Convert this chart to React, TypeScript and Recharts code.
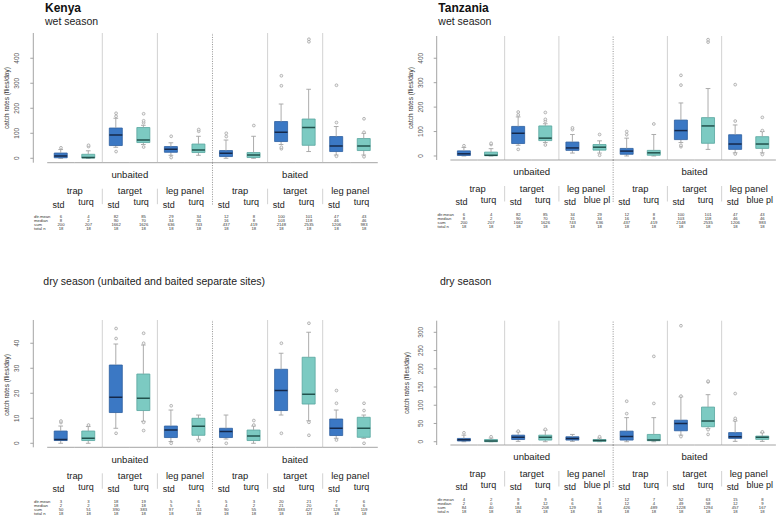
import React from "react";
import { ComposedChart, Bar, Scatter, XAxis, YAxis, ReferenceLine } from "recharts";

const FONT = "'Liberation Sans', Arial, Helvetica, sans-serif";

// five-number summaries per box: [lower whisker, q1, median, q3, upper whisker]
const kenyaWetBox = [
  [0, 2, 9, 21, 35], [0, 1, 3, 16, 30], [44, 51, 93, 121, 160], [55, 63, 73, 123, 132],
  [12, 24, 36, 47, 62], [12, 23, 33, 57, 88], [0, 7, 20, 31, 73], [0, 3, 13, 23, 88],
  [55, 67, 104, 147, 217], [27, 52, 123, 157, 276], [13, 27, 49, 87, 127], [13, 31, 49, 79, 100],
];
const kenyaWetOut = [
  [42], [47, 52], [27, 168, 180], [45, 142, 150, 178], [3, 88], [108, 115],
  [87, 100], [131], [38, 44, 290, 330], [466, 476], [8, 143, 292], [6, 104, 158],
];
const tanzaniaWetBox = [
  [0, 2, 9, 21, 35], [0, 1, 3, 16, 30], [44, 51, 93, 121, 160], [55, 63, 73, 123, 132],
  [12, 23, 33, 57, 88], [12, 24, 36, 47, 62], [0, 7, 20, 31, 73], [0, 3, 13, 23, 88],
  [55, 67, 104, 147, 217], [27, 52, 123, 157, 276], [13, 27, 49, 87, 127], [13, 31, 49, 79, 100],
];
const tanzaniaWetOut = [
  [42], [47, 52], [27, 168, 180], [45, 142, 150, 178], [108, 115], [3, 88],
  [87, 100], [131], [38, 44, 290, 330], [466, 476], [8, 143, 292], [6, 104, 158],
];
const kenyaDryBox = [
  [0, 1.1, 1.5, 4.9, 6.9], [0, 1.1, 2.0, 4.9, 6.7], [6, 12.3, 18.4, 31.3, 39.7], [8.8, 13.1, 18, 27.7, 39.3],
  [0.7, 2.3, 5.3, 6.9, 13.3], [1.6, 3.2, 6.8, 10, 11.3], [1.7, 2.3, 4.7, 6, 11.3], [0, 1.1, 2.9, 5.3, 6.9],
  [11.3, 13.1, 21.1, 29.6, 36], [9, 15.7, 19.6, 34.4, 44.4], [2, 3.1, 6, 9.7, 13.3], [2, 2.4, 6, 10.4, 11.3],
];
const kenyaDryOut = [
  [8.3, 8.9], [7.3], [4, 41.9, 45.9], [5.1, 8.4, 40, 44], [0, 15], [1.1],
  [0], [7.3, 9.1], [4, 40], [3.2, 8.4, 48], [1.3, 16, 21.1], [0, 13.1, 16],
];
const tanzaniaDryBox = [
  [0, 2, 5.5, 9, 18], [0, 0, 2, 6, 10], [1, 6, 12, 18, 27], [0, 4.5, 12, 18, 32],
  [1, 4.5, 9, 13.6, 20], [0, 1, 3.6, 6, 10], [0, 4.5, 14.5, 29, 66], [0, 2.7, 4.5, 20, 66],
  [18, 30, 50, 59, 123], [36, 41, 57, 95, 129], [1, 9, 13.6, 25, 57], [1, 6.4, 12, 15.5, 24.5],
];
const tanzaniaDryOut = [
  [24.5], [13.6], [29], [34], [], [13.6],
  [77, 111], [105, 234], [14, 125, 318], [20, 33, 164, 166], [59, 64, 132], [27],
];

// tables under the plots
const rowLabels = ["dtr.mean", "median", "sum", "total n"];
const totalN = [18, 18, 18, 18, 18, 18, 18, 18, 18, 18, 18, 18];
const kenyaWetMean = [6, 4, 82, 85, 29, 34, 12, 8, 100, 101, 47, 43];
const kenyaWetMedian = [8, 2, 90, 70, 34, 31, 16, 8, 103, 118, 46, 46];
const kenyaWetSum = [200, 207, 1662, 1626, 636, 743, 437, 419, 2148, 2535, 1206, 983];
const tanzaniaWetMean = [6, 4, 82, 85, 34, 29, 12, 8, 100, 101, 47, 43];
const tanzaniaWetMedian = [8, 2, 90, 70, 31, 34, 16, 8, 103, 118, 46, 46];
const tanzaniaWetSum = [200, 207, 1662, 1626, 743, 636, 437, 419, 2148, 2535, 1206, 983];
const kenyaDryMean = [3, 3, 18, 19, 5, 6, 5, 3, 20, 21, 7, 6];
const kenyaDryMedian = [2, 2, 18, 18, 5, 6, 4, 2, 21, 20, 6, 6];
const kenyaDrySum = [50, 51, 390, 383, 97, 111, 90, 55, 383, 427, 128, 119];
const tanzaniaDryMean = [4, 2, 9, 9, 6, 3, 12, 7, 52, 63, 15, 8];
const tanzaniaDryMedian = [2, 0, 8, 12, 6, 3, 12, 4, 49, 58, 12, 9];
const tanzaniaDrySum = [84, 40, 184, 208, 129, 56, 426, 489, 1228, 1294, 457, 167];

const treatments = ["unbaited", "baited"];
const devices = ["trap", "target", "leg panel"];
const kenyaSub = ["std", "turq", "std", "turq", "std", "turq", "std", "turq", "std", "turq", "std", "turq"];
const tanzaniaSub = ["std", "turq", "std", "turq", "std", "blue pl", "std", "turq", "std", "turq", "std", "blue pl"];

const wetTicks = [0, 100, 200, 300, 400];
const kenyaDryTicks = [0, 10, 20, 30, 40];
const tanzaniaDryTicks = [0, 50, 100, 150, 200, 250, 300];

const STD = { fill: "#3b78c4", edge: "#2d5f9f", med: "#15284a" };
const TURQ = { fill: "#7ccac2", edge: "#58a69e", med: "#22524d" };
const GREY = "#a3a3a3";
const AXIS = "#9a9a9a";
const SEP = "#d2d2d2";

function buildRows(box: number[][], out: number[][]) {
  return box.map(([lo, q1, med, q3, hi], i) => {
    const row: any = {
      name: String(i + 1),
      turq: i % 2 === 1,
      s0: lo,
      s1: q1 - lo,
      s2: med - q1,
      s3: q3 - med,
      s4: hi - q3,
    };
    out[i].forEach((v, k) => (row["o" + k] = v));
    return row;
  });
}

function WhiskerLow(p: any) {
  const cx = p.x + p.width / 2;
  const cap = p.width * 0.18;
  const y2 = p.y + p.height;
  return (
    <g>
      <line x1={cx} x2={cx} y1={p.y} y2={y2} stroke={GREY} strokeWidth={0.9} />
      <line x1={cx - cap} x2={cx + cap} y1={y2} y2={y2} stroke={GREY} strokeWidth={0.9} />
    </g>
  );
}

function WhiskerHigh(p: any) {
  const cx = p.x + p.width / 2;
  const cap = p.width * 0.18;
  return (
    <g>
      <line x1={cx} x2={cx} y1={p.y} y2={p.y + p.height} stroke={GREY} strokeWidth={0.9} />
      <line x1={cx - cap} x2={cx + cap} y1={p.y} y2={p.y} stroke={GREY} strokeWidth={0.9} />
    </g>
  );
}

function BoxLow(p: any) {
  const c = p.payload.turq ? TURQ : STD;
  const { x, y, width, height } = p;
  return (
    <g>
      <rect x={x} y={y} width={width} height={height} fill={c.fill} />
      <path d={`M${x},${y}V${y + height}H${x + width}V${y}`} stroke={c.edge} strokeWidth={0.8} fill="none" />
    </g>
  );
}

function BoxHigh(p: any) {
  const c = p.payload.turq ? TURQ : STD;
  const { x, y, width, height } = p;
  const yb = y + height;
  return (
    <g>
      <rect x={x} y={y} width={width} height={height} fill={c.fill} />
      <path d={`M${x},${yb}V${y}H${x + width}V${yb}`} stroke={c.edge} strokeWidth={0.8} fill="none" />
      <line x1={x} x2={x + width} y1={yb} y2={yb} stroke={c.med} strokeWidth={1.5} />
    </g>
  );
}

function OutlierDot(p: any) {
  if (!Number.isFinite(p.cx) || !Number.isFinite(p.cy)) return <g />;
  return <circle cx={p.cx} cy={p.cy} r={1.4} fill="#f4f4f4" stroke="#9c9c9c" strokeWidth={0.7} />;
}

function YTick(p: any) {
  return (
    <text
      x={p.x}
      y={p.y}
      transform={`rotate(-90 ${p.x} ${p.y})`}
      textAnchor="middle"
      fontSize={6.5}
      fill="#555"
      fontFamily={FONT}
    >
      {p.payload.value}
    </text>
  );
}

function makeTableTick(sub: string[], stats: number[][], band: number) {
  return (p: any) => {
    const { x, y } = p;
    const i = p.index ?? p.payload?.index ?? 0;
    const edge = x - band / 2;
    return (
      <g fontFamily={FONT}>
        <line x1={edge} x2={x + band / 2} y1={y} y2={y} stroke={AXIS} strokeWidth={0.9} />
        {i % 6 === 0 && (
          <text x={x + band * 2.5} y={y + 15.3} textAnchor="middle" fontSize={9.6} fill="#222">
            {treatments[i / 6]}
          </text>
        )}
        {i % 2 === 0 && (
          <text x={x + band / 2} y={y + 31.5} textAnchor="middle" fontSize={9.4} fill="#222">
            {devices[(i / 2) % 3]}
          </text>
        )}
        <text x={x - 2.5} y={y + (i % 2 === 0 ? 45 : 42.5)} textAnchor="middle" fontSize={9} fill="#222">
          {sub[i]}
        </text>
        {stats.map((row, r) => (
          <text key={r} x={x} y={y + 55.5 + r * 4} textAnchor="middle" fontSize={4.2} fill="#333">
            {row[i]}
          </text>
        ))}
        {i === 0 &&
          rowLabels.map((l, r) => (
            <text key={l} x={x - band + 0.7} y={y + 55.5 + r * 4} fontSize={4.2} fill="#333">
              {l}
            </text>
          ))}
        {(i === 2 || i === 4 || i === 8 || i === 10) && (
          <line x1={edge} x2={edge} y1={y + 26} y2={y + 41.5} stroke={SEP} strokeWidth={1} />
        )}
        {i === 6 && (
          <line x1={edge} x2={edge} y1={y} y2={y + 42} stroke="#777" strokeWidth={0.8} strokeDasharray="1 1.4" />
        )}
      </g>
    );
  };
}

type PanelProps = {
  left: number;
  top: number;
  axisX: number;
  bandStart: number;
  bandEnd: number;
  plotTop: number;
  plotBottom: number;
  domain: [number, number];
  ticks: number[];
  box: number[][];
  out: number[][];
  sub: string[];
  stats: number[][];
};

const TABLE_H = 75;

function Panel(props: PanelProps) {
  const { left, top, axisX, bandStart, bandEnd, plotTop, plotBottom } = props;
  const data = buildRows(props.box, props.out);
  const band = (bandEnd - bandStart) / 12;
  const width = 390;
  const height = plotBottom - top + TABLE_H;
  return (
    <div style={{ position: "absolute", left, top, width, height }}>
      <ComposedChart
        width={width}
        height={height}
        data={data}
        margin={{ top: plotTop - top, left: 0, right: left + width - bandEnd, bottom: 0 }}
      >
        <XAxis
          dataKey="name"
          type="category"
          interval={0}
          height={TABLE_H}
          axisLine={false}
          tickLine={false}
          tickSize={0}
          tickMargin={0}
          padding={{ left: bandStart - axisX, right: 0 }}
          tick={makeTableTick(props.sub, props.stats, band)}
        />
        <YAxis
          type="number"
          domain={props.domain}
          ticks={props.ticks}
          interval={0}
          allowDataOverflow
          width={axisX - left}
          tickSize={3}
          tickMargin={11}
          axisLine={{ stroke: AXIS, strokeWidth: 0.9 }}
          tickLine={{ stroke: AXIS, strokeWidth: 0.9 }}
          tick={<YTick />}
        />
        {["3", "5", "9", "11"].map((k) => (
          <ReferenceLine key={k} x={k} position="start" stroke={SEP} strokeWidth={1} />
        ))}
        <ReferenceLine x="7" position="start" stroke="#777" strokeWidth={0.8} strokeDasharray="1 1.4" />
        <Bar dataKey="s0" stackId="b" barSize={13} shape={() => <g />} isAnimationActive={false} />
        <Bar dataKey="s1" stackId="b" barSize={13} shape={(p: any) => <WhiskerLow {...p} />} isAnimationActive={false} />
        <Bar dataKey="s2" stackId="b" barSize={13} shape={(p: any) => <BoxLow {...p} />} isAnimationActive={false} />
        <Bar dataKey="s3" stackId="b" barSize={13} shape={(p: any) => <BoxHigh {...p} />} isAnimationActive={false} />
        <Bar dataKey="s4" stackId="b" barSize={13} shape={(p: any) => <WhiskerHigh {...p} />} isAnimationActive={false} />
        {["o0", "o1", "o2", "o3"].map((k) => (
          <Scatter key={k} dataKey={k} shape={(p: any) => <OutlierDot {...p} />} isAnimationActive={false} />
        ))}
      </ComposedChart>
    </div>
  );
}

function YLabel({ x, y }: { x: number; y: number }) {
  return (
    <text x={x} y={y} transform={`rotate(-90 ${x} ${y})`} textAnchor="middle" fontSize={6.5} fill="#333">
      catch rates (flies/day)
    </text>
  );
}

export default function App() {
  return (
    <div style={{ position: "absolute", left: 0, top: 0, width: 780, height: 528, background: "#fff", fontFamily: FONT }}>
      <svg width={780} height={528} style={{ position: "absolute", left: 0, top: 0 }} fontFamily={FONT}>
        <text x={45} y={11.7} fontSize={12} fontWeight="bold" fill="#111">Kenya</text>
        <text x={45} y={25} fontSize={10.5} fill="#222">wet season</text>
        <text x={438.3} y={11.7} fontSize={12} fontWeight="bold" fill="#111">Tanzania</text>
        <text x={438.3} y={25} fontSize={10.5} fill="#222">wet season</text>
        <text x={43.3} y={285} fontSize={10.5} fill="#222">dry season (unbaited and baited separate sites)</text>
        <text x={440} y={285} fontSize={10.5} fill="#222">dry season</text>
        <YLabel x={9} y={98} />
        <YLabel x={412.5} y={98} />
        <YLabel x={9} y={385} />
        <YLabel x={409} y={383} />
      </svg>
      <Panel
        left={0}
        top={0}
        axisX={33.3}
        bandStart={47.2}
        bandEnd={377.8}
        plotTop={33}
        plotBottom={162.7}
        domain={[-17.6, 501]}
        ticks={wetTicks}
        box={kenyaWetBox}
        out={kenyaWetOut}
        sub={kenyaSub}
        stats={[kenyaWetMean, kenyaWetMedian, kenyaWetSum, totalN]}
      />
      <Panel
        left={390}
        top={0}
        axisX={436.7}
        bandStart={450.4}
        bandEnd={775.9}
        plotTop={36}
        plotBottom={160}
        domain={[-16.4, 491]}
        ticks={wetTicks}
        box={tanzaniaWetBox}
        out={tanzaniaWetOut}
        sub={tanzaniaSub}
        stats={[tanzaniaWetMean, tanzaniaWetMedian, tanzaniaWetSum, totalN]}
      />
      <Panel
        left={0}
        top={290}
        axisX={33.3}
        bandStart={47.2}
        bandEnd={377.8}
        plotTop={320}
        plotBottom={447.3}
        domain={[-1.6, 49.3]}
        ticks={kenyaDryTicks}
        box={kenyaDryBox}
        out={kenyaDryOut}
        sub={kenyaSub}
        stats={[kenyaDryMean, kenyaDryMedian, kenyaDrySum, totalN]}
      />
      <Panel
        left={390}
        top={290}
        axisX={436.7}
        bandStart={450.4}
        bandEnd={775.9}
        plotTop={320.7}
        plotBottom={445}
        domain={[-9, 331.8]}
        ticks={tanzaniaDryTicks}
        box={tanzaniaDryBox}
        out={tanzaniaDryOut}
        sub={tanzaniaSub}
        stats={[tanzaniaDryMean, tanzaniaDryMedian, tanzaniaDrySum, totalN]}
      />
    </div>
  );
}
